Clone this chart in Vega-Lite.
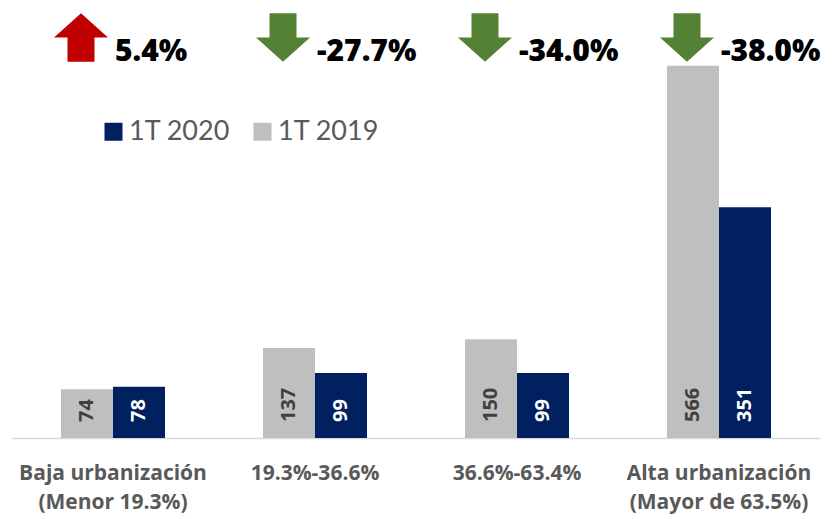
{
  "$schema": "https://vega.github.io/schema/vega-lite/v6.json",
  "width": 808,
  "height": 438,
  "autosize": {"type": "none"},
  "padding": {"left": 12, "top": 0, "right": 16, "bottom": 81},
  "config": {
    "view": {"stroke": null},
    "font": "Open Sans"
  },
  "datasets": {
    "bars": [
      {"categoria": "Baja urbanización\n(Menor 19.3%)", "serie": "1T 2019", "valor": 74},
      {"categoria": "Baja urbanización\n(Menor 19.3%)", "serie": "1T 2020", "valor": 78},
      {"categoria": "19.3%-36.6%", "serie": "1T 2019", "valor": 137},
      {"categoria": "19.3%-36.6%", "serie": "1T 2020", "valor": 99},
      {"categoria": "36.6%-63.4%", "serie": "1T 2019", "valor": 150},
      {"categoria": "36.6%-63.4%", "serie": "1T 2020", "valor": 99},
      {"categoria": "Alta urbanización\n(Mayor de 63.5%)", "serie": "1T 2019", "valor": 566},
      {"categoria": "Alta urbanización\n(Mayor de 63.5%)", "serie": "1T 2020", "valor": 351}
    ],
    "cambios": [
      {"categoria": "Baja urbanización\n(Menor 19.3%)", "cambio": "5.4%", "direccion": "sube"},
      {"categoria": "19.3%-36.6%", "cambio": "-27.7%", "direccion": "baja"},
      {"categoria": "36.6%-63.4%", "cambio": "-34.0%", "direccion": "baja"},
      {"categoria": "Alta urbanización\n(Mayor de 63.5%)", "cambio": "-38.0%", "direccion": "baja"}
    ]
  },
  "encoding": {
    "x": {
      "field": "categoria",
      "type": "nominal",
      "sort": null,
      "scale": {"paddingInner": 0.485, "paddingOuter": 0.2425},
      "axis": {
        "title": null,
        "labelAngle": 0,
        "labelExpr": "split(datum.label, '\\n')",
        "labelFont": "Open Sans",
        "labelFontWeight": "bold",
        "labelFontSize": 21,
        "labelColor": "#595959",
        "labelLineHeight": 29,
        "labelBaseline": "top",
        "labelPadding": 24,
        "ticks": false,
        "domainColor": "#D9D9D9",
        "domainWidth": 1.5,
        "labelLimit": 300
      }
    }
  },
  "layer": [
    {
      "data": {"name": "bars"},
      "mark": {"type": "bar"},
      "encoding": {
        "xOffset": {"field": "serie", "type": "nominal", "sort": ["1T 2019", "1T 2020"], "scale": {"paddingInner": 0, "paddingOuter": 0}},
        "y": {"field": "valor", "type": "quantitative", "scale": {"domain": [0, 666], "nice": false, "zero": true}, "axis": null},
        "color": {
          "field": "serie",
          "type": "nominal",
          "scale": {"domain": ["1T 2020", "1T 2019"], "range": ["#002060", "#BFBFBF"]},
          "legend": {
            "title": null,
            "orient": "none",
            "legendX": 88,
            "legendY": 118,
            "direction": "horizontal",
            "symbolType": "square",
            "symbolSize": 324,
            "symbolStrokeWidth": 0,
            "labelFont": "Lato",
            "labelFontSize": 27,
            "labelColor": "#595959",
            "labelOffset": 2,
            "columnPadding": 18,
            "padding": 0
          }
        }
      }
    },
    {
      "data": {"name": "bars"},
      "mark": {"type": "text", "angle": 270, "align": "left", "baseline": "middle", "dx": 16, "font": "Open Sans", "fontWeight": "bold", "fontSize": 20},
      "encoding": {
        "xOffset": {"field": "serie", "type": "nominal", "sort": ["1T 2019", "1T 2020"]},
        "y": {"datum": 0, "type": "quantitative"},
        "text": {"field": "valor", "type": "quantitative"},
        "color": {
          "condition": {"test": "datum.serie == '1T 2020'", "value": "#FFFFFF"},
          "value": "#404040"
        }
      }
    },
    {
      "data": {"name": "cambios"},
      "mark": {"type": "point", "filled": true, "opacity": 1, "size": 2916, "xOffset": -32, "strokeWidth": 0},
      "encoding": {
        "y": {"datum": 609, "type": "quantitative"},
        "shape": {
          "field": "direccion",
          "type": "nominal",
          "scale": {
            "domain": ["sube", "baja"],
            "range": [
              "M0,-0.9L1,0L0.5,0L0.5,0.9L-0.5,0.9L-0.5,0L-1,0Z",
              "M0,0.9L1,0L0.5,0L0.5,-0.9L-0.5,-0.9L-0.5,0L-1,0Z"
            ]
          },
          "legend": null
        },
        "fill": {
          "field": "direccion",
          "type": "nominal",
          "scale": {"domain": ["sube", "baja"], "range": ["#C00000", "#548235"]},
          "legend": null
        }
      }
    },
    {
      "data": {"name": "cambios"},
      "mark": {"type": "text", "align": "left", "baseline": "middle", "dx": 2, "font": "Open Sans", "fontWeight": 800, "fontSize": 30, "color": "#000000"},
      "encoding": {
        "y": {"datum": 587, "type": "quantitative"},
        "text": {"field": "cambio", "type": "nominal"}
      }
    }
  ]
}
